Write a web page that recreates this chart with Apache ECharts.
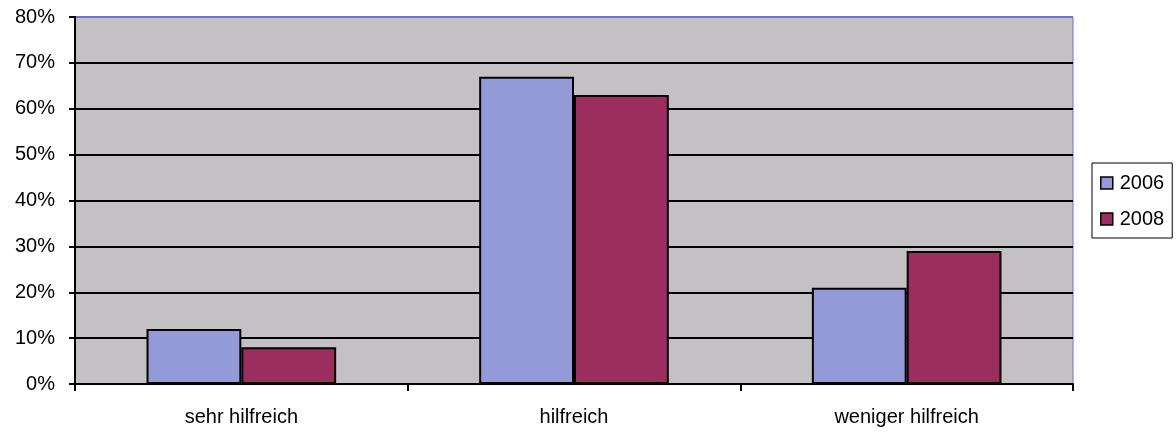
<!DOCTYPE html>
<html><head><meta charset="utf-8">
<script src="https://cdn.jsdelivr.net/npm/echarts@6/dist/echarts.min.js"></script>
<style>html,body{margin:0;padding:0;background:#fff}#c{width:1176px;height:432px}</style>
</head><body><div id="c"></div>
<script>
const categories = ['sehr hilfreich', 'hilfreich', 'weniger hilfreich'];
const series2006 = [12, 67, 21];
const series2008 = [8, 63, 29];
const yTicks = [0, 10, 20, 30, 40, 50, 60, 70, 80];

const chart = echarts.init(document.getElementById('c'), null, {renderer: 'canvas'});
const font = 'Liberation Sans, Arial, sans-serif';
const splitColors = yTicks.map((t, i) => i === yTicks.length - 1 ? '#7070d8' : '#000');
chart.setOption({
  animation: false,
  grid: {left: 75, right: 103, top: 17, bottom: 48, show: true, backgroundColor: '#c3c1c4', borderColor: '#7070d8', borderWidth: 1},
  legend: {
    orient: 'vertical', left: 1092, top: 163,
    data: ['2006', '2008'],
    itemWidth: 12, itemHeight: 12, itemGap: 16,
    borderColor: '#000', borderWidth: 1, padding: [10, 8, 9, 8],
    backgroundColor: '#fff',
    icon: 'rect',
    textStyle: {fontFamily: font, fontSize: 20, color: '#000', padding: [0, 0, 0, 2]},
    itemStyle: {borderColor: '#000', borderWidth: 1.5}
  },
  xAxis: {
    type: 'category', data: categories,
    axisLine: {lineStyle: {color: '#000', width: 2}},
    axisTick: {show: true, inside: false, length: 7, lineStyle: {color: '#000', width: 2}},
    axisLabel: {fontFamily: font, fontSize: 20, color: '#000', margin: 23}
  },
  yAxis: {
    type: 'value', min: yTicks[0], max: yTicks[yTicks.length - 1], interval: 10,
    axisLine: {show: true, lineStyle: {color: '#000', width: 2}},
    axisTick: {show: true, length: 6, lineStyle: {color: '#000', width: 2}},
    axisLabel: {fontFamily: font, fontSize: 20, color: '#000', margin: 20, formatter: v => v + '%'},
    splitLine: {show: true, lineStyle: {color: splitColors, width: 2}}
  },
  series: [
    {name: '2006', type: 'bar', data: series2006, barGap: '0%', barCategoryGap: '43%',
     itemStyle: {color: '#9499d8', borderColor: '#000', borderWidth: 2}},
    {name: '2008', type: 'bar', data: series2008,
     itemStyle: {color: '#9b2e5e', borderColor: '#000', borderWidth: 2}}
  ]
});
</script></body></html>
